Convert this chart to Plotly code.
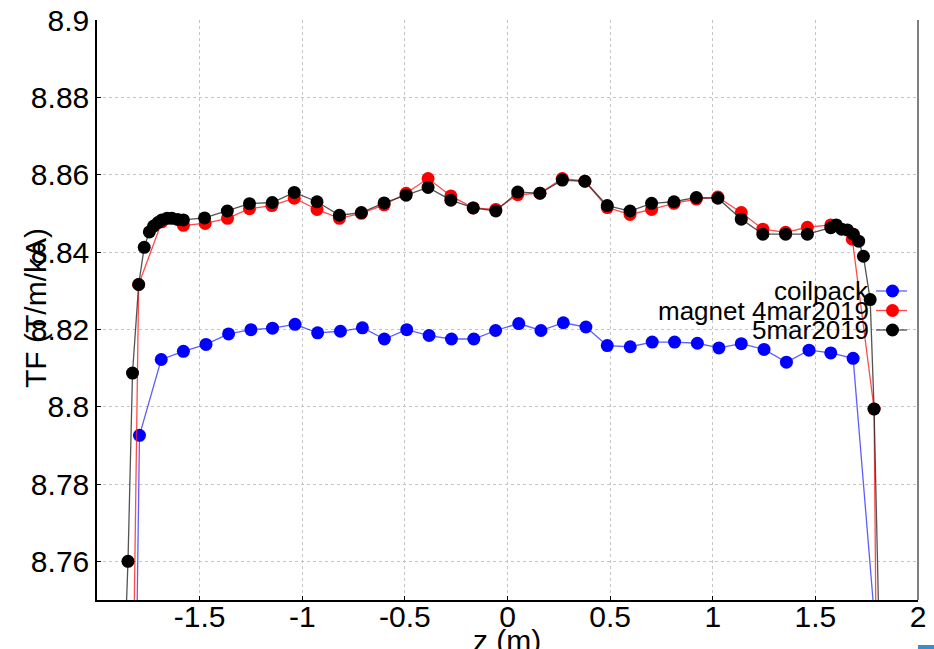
import plotly.graph_objects as go

# ---------------- data ----------------
series_names = ["coilpack", "magnet 4mar2019", "5mar2019"]

z_coil = [-1.900, -1.793, -1.687, -1.579, -1.469, -1.359, -1.250, -1.145, -1.035, -0.925,
          -0.814, -0.707, -0.600, -0.491, -0.382, -0.273, -0.164, -0.058, 0.055, 0.163,
          0.272, 0.382, 0.486, 0.598, 0.705, 0.814, 0.925, 1.030, 1.139, 1.250,
          1.359, 1.469, 1.575, 1.684, 1.790]
tf_coil = [8.385, 8.7926, 8.8122, 8.8143, 8.8161, 8.8188, 8.8199, 8.8203, 8.8213, 8.8191,
           8.8195, 8.8204, 8.8175, 8.8199, 8.8184, 8.8175, 8.8175, 8.8197, 8.8215, 8.8197,
           8.8217, 8.8206, 8.8158, 8.8155, 8.8167, 8.8167, 8.8164, 8.8152, 8.8163, 8.8148,
           8.8115, 8.8146, 8.8139, 8.8125, 8.744]

z_mag4 = [-1.900, -1.797, -1.684, -1.579, -1.473, -1.364, -1.257, -1.148, -1.039, -0.928,
          -0.819, -0.712, -0.601, -0.494, -0.387, -0.276, -0.167, -0.057, 0.050, 0.158,
          0.267, 0.377, 0.486, 0.597, 0.702, 0.811, 0.920, 1.025, 1.139, 1.244,
          1.355, 1.461, 1.575, 1.680, 1.786, 1.830]
tf_mag4 = [8.434, 8.8316, 8.8478, 8.8469, 8.8474, 8.8487, 8.8512, 8.8520, 8.8539, 8.8510,
           8.8487, 8.8500, 8.8522, 8.8552, 8.8590, 8.8545, 8.8514, 8.8510, 8.8548, 8.8552,
           8.8590, 8.8583, 8.8515, 8.8497, 8.8510, 8.8526, 8.8537, 8.8542, 8.8502, 8.8459,
           8.8451, 8.8464, 8.8470, 8.8433, 8.7994, 8.529]

z_mag5 = [-1.875, -1.849, -1.827, -1.797, -1.770, -1.745, -1.724, -1.703, -1.684, -1.659,
          -1.635, -1.607, -1.579, -1.476, -1.365, -1.257, -1.146, -1.039, -0.928, -0.819,
          -0.712, -0.601, -0.494, -0.387, -0.276, -0.167, -0.057, 0.050, 0.158, 0.267,
          0.377, 0.486, 0.597, 0.702, 0.811, 0.920, 1.025, 1.139, 1.244, 1.355,
          1.461, 1.575, 1.602, 1.628, 1.656, 1.685, 1.711, 1.734, 1.767, 1.786,
          1.830]
tf_mag5 = [8.7218, 8.7600, 8.8087, 8.8316, 8.8412, 8.8452, 8.8467, 8.8476, 8.8483, 8.8487,
           8.8487, 8.8484, 8.8483, 8.8488, 8.8506, 8.8525, 8.8528, 8.8554, 8.8530, 8.8495,
           8.8502, 8.8527, 8.8547, 8.8567, 8.8534, 8.8514, 8.8506, 8.8555, 8.8552, 8.8586,
           8.8583, 8.8520, 8.8506, 8.8526, 8.8530, 8.8541, 8.8539, 8.8485, 8.8446, 8.8446,
           8.8446, 8.8463, 8.8470, 8.8459, 8.8457, 8.8446, 8.8428, 8.8389, 8.8277, 8.7994,
           8.6949]

x_tickvals = [-1.5, -1, -0.5, 0, 0.5, 1, 1.5, 2]
x_ticktext = ["-1.5", "-1", "-0.5", "0", "0.5", "1", "1.5", "2"]
y_tickvals = [8.76, 8.78, 8.8, 8.82, 8.84, 8.86, 8.88, 8.9]
y_ticktext = ["8.76", "8.78", "8.8", "8.82", "8.84", "8.86", "8.88", "8.9"]

x_title = "z (m)"
y_title = "TF (T/m/kA)"

# ---------------- styles ----------------
marker_colors = ["#0000ff", "#ff0000", "#000000"]
line_colors = ["rgba(40,40,255,0.75)", "rgba(255,30,30,0.8)", "rgba(40,40,40,0.8)"]
FONT = "Liberation Sans, Arial, sans-serif"

fig = go.Figure()
for name, zs, vs, mc, lc in zip(series_names, [z_coil, z_mag4, z_mag5],
                                [tf_coil, tf_mag4, tf_mag5], marker_colors, line_colors):
    fig.add_trace(go.Scatter(
        x=zs, y=vs, name=name, mode="lines+markers",
        line=dict(color=lc, width=1.3),
        marker=dict(color=mc, size=13, line=dict(width=0)),
        showlegend=False, cliponaxis=True,
    ))

L, R, T, B = 97, 16, 20, 49
W, H = 934, 649
pw, ph = W - L - R, H - T - B

def px(xp):
    return (xp - L) / pw

def py(yp):
    return (H - B - yp) / ph

shapes = []
annotations = []

# manual gnuplot-style legend: text right, sample on the right
leg_y = [291, 310.5, 330]
for name, mc, lc, yy in zip(series_names, marker_colors, line_colors, leg_y):
    shapes.append(dict(type="line", xref="paper", yref="paper",
                       x0=px(876), x1=px(907), y0=py(yy), y1=py(yy),
                       line=dict(color=lc, width=1.3)))
    shapes.append(dict(type="circle", xref="paper", yref="paper",
                       xsizemode="pixel", ysizemode="pixel",
                       xanchor=px(892.5), yanchor=py(yy),
                       x0=-6.5, x1=6.5, y0=-6.5, y1=6.5,
                       fillcolor=mc, line=dict(width=0)))
    annotations.append(dict(text=name, xref="paper", yref="paper",
                            x=px(871), y=py(yy), xanchor="right", yanchor="middle",
                            showarrow=False, font=dict(family=FONT, size=26, color="black")))

# right border
shapes.append(dict(type="line", xref="paper", yref="paper", x0=1, x1=1, y0=0, y1=1,
                   line=dict(color="#555555", width=1.5)))
# small blue artifact bottom-right
shapes.append(dict(type="rect", xref="paper", yref="paper",
                   x0=px(918), x1=px(934), y0=py(649), y1=py(645),
                   fillcolor="#3a8fc8", line=dict(width=0)))

annotations.append(dict(text=y_title, xref="paper", yref="paper", x=px(35), y=py(308),
                        xanchor="center", yanchor="middle", textangle=-90, showarrow=False,
                        font=dict(family=FONT, size=30, color="black")))
annotations.append(dict(text=x_title, xref="paper", yref="paper", x=px(507), y=py(622),
                        xanchor="center", yanchor="top", showarrow=False,
                        font=dict(family=FONT, size=30, color="black")))

axis_common = dict(
    showgrid=True, gridcolor="#c4c4c4", gridwidth=1, griddash="3px,3px",
    zeroline=False, showline=True, linecolor="black", linewidth=1.5,
    ticks="inside", ticklen=4, tickcolor="black", automargin=False,
    tickfont=dict(family=FONT, size=30, color="black"),
)

fig.update_layout(
    width=W, height=H,
    margin=dict(l=L, r=R, t=T, b=B, pad=0, autoexpand=False),
    paper_bgcolor="white", plot_bgcolor="white",
    showlegend=False,
    xaxis=dict(range=[-2, 2], tickmode="array", tickvals=x_tickvals, ticktext=x_ticktext,
               ticklabelstandoff=-11, **axis_common),
    yaxis=dict(range=[8.75, 8.9], tickmode="array", tickvals=y_tickvals, ticktext=y_ticktext,
               **axis_common),
    shapes=shapes,
    annotations=annotations,
)

fig.write_html("out.html")
